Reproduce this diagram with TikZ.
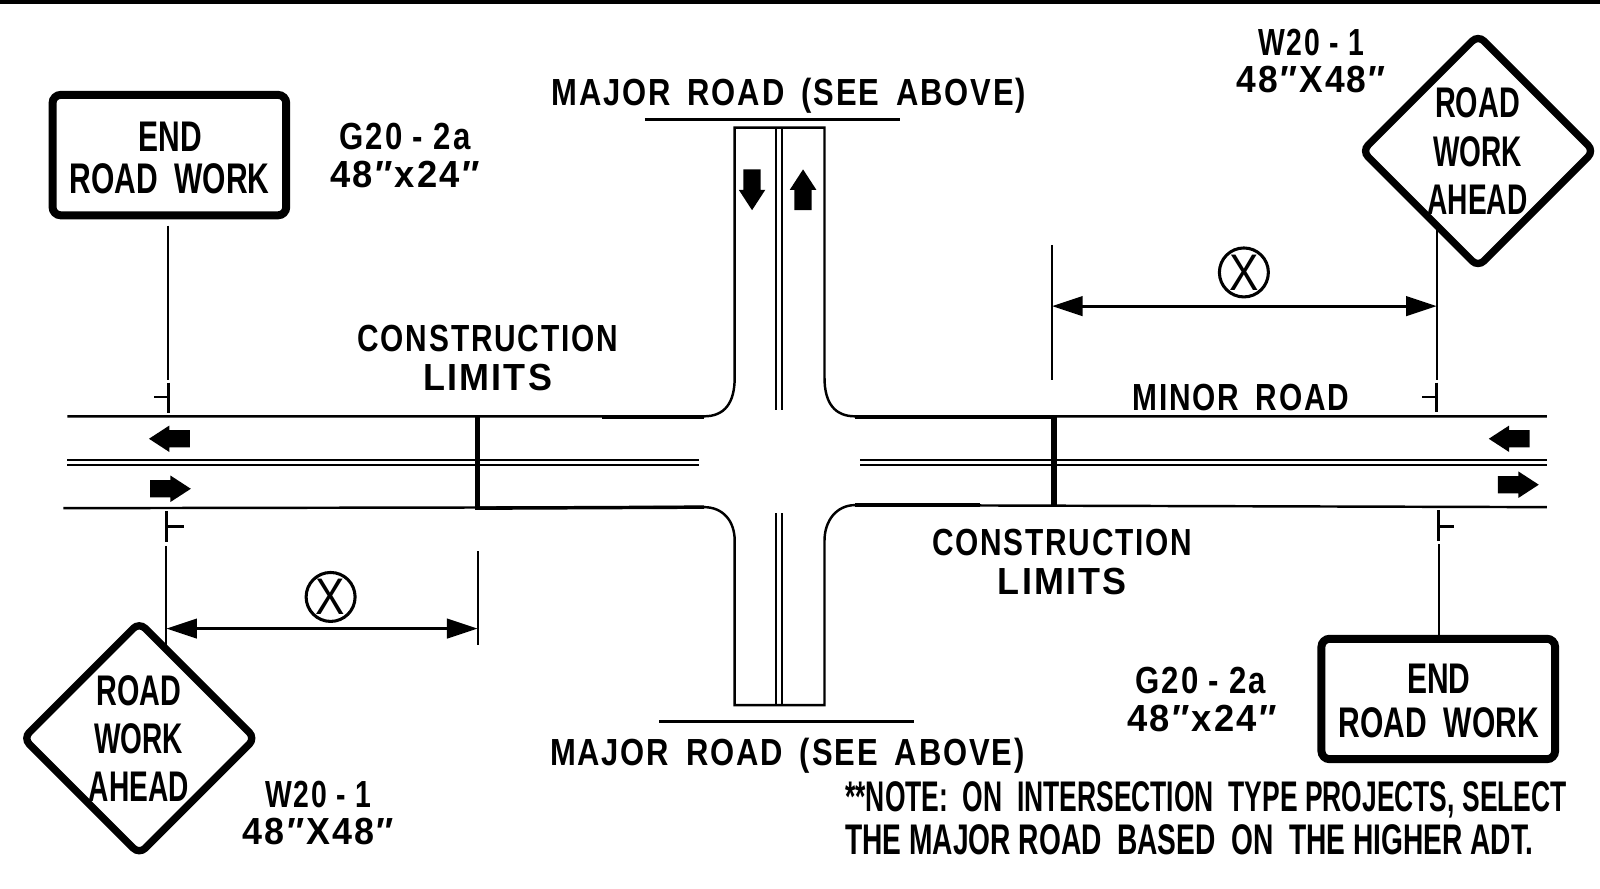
\documentclass[tikz,border=0pt]{standalone}
\usepackage{fontspec}
\usepackage{graphicx}
\usetikzlibrary{shapes.geometric,arrows.meta}
\setmainfont{Liberation Sans}
\newfontfamily\lblf[LetterSpace=6]{Liberation Sans Bold}
\newfontfamily\sgnf{Liberation Sans Bold}
\newcommand\fitw[2]{\setbox0=\hbox{#2}\pgfmathsetmacro\rr{#1*0.5/\the\wd0}\scalebox{\rr}[1]{#2}}
\newcommand\blkarrow[3]{\fill[shift={(#1,#2)},rotate=#3] (-20,-8.5) -- (0,-8.5) -- (0,-13) -- (20,0) -- (0,13) -- (0,8.5) -- (-20,8.5) -- cycle;}
\newcommand\wsp{\hspace{0.55em}}
\begin{document}
\begin{tikzpicture}[x=0.5pt,y=-0.5pt,
  thinline/.style={line width=1pt,line cap=butt},
  tickline/.style={line width=1.4pt},
  centre/.style={line width=1.15pt},
  roadline/.style={line width=1.2pt},
  heavyroad/.style={line width=1.7pt},
  limitbar/.style={line width=2.8pt},
  majorbar/.style={line width=1.8pt},
  lbl/.style={inner sep=0pt,anchor=base,font=\fontsize{18.5}{18.5}\lblf},
  sgn/.style={inner sep=0pt,anchor=base,font=\fontsize{21}{21}\sgnf},
  dtext/.style={inner sep=0pt,align=center,font=\fontsize{21}{23.4}\sgnf},
  panel/.style={draw,line width=3.9pt,rounded corners=4pt,minimum width=114.5pt,minimum height=59pt,inner sep=0pt},
  warn/.style={diamond,draw,line width=3.6pt,rounded corners=4pt,aspect=1,minimum width=115pt,minimum height=115pt,inner sep=0pt},
  xcirc/.style={circle,draw,line width=1.5pt,minimum size=24pt,inner sep=0pt,font=\fontsize{24}{24}\selectfont},
  dimen/.style={line width=1.5pt,{Triangle[length=15pt,width=9.5pt]}-{Triangle[length=15pt,width=9.5pt]}}]
\useasboundingbox (0,0) rectangle (1568,871);
\fill (0,0) rectangle (1568,4);

% roads
\draw[roadline] (66,408) -- (690,408) .. controls (710,408) and (720,395) .. (720,370) -- (720,125) -- (808,125) -- (808,370) .. controls (808,395) and (818,408) .. (838,408) -- (1516,408);
\draw[roadline] (62,498) -- (690,497) .. controls (708,497) and (720,510) .. (720,530) -- (720,691) -- (808,691) -- (808,530) .. controls (808,510) and (820,495) .. (838,495) -- (1516,497);
\draw[heavyroad] (590,409) -- (690,409);
\draw[heavyroad] (838,409) -- (1030,409);
\draw[heavyroad] (470,498) -- (690,497);
\draw[heavyroad] (838,495) -- (960,495);
\foreach \yy in {451,456}{
  \draw[centre] (66,\yy) -- (685,\yy);
  \draw[centre] (843,\yy) -- (1516,\yy);
}
\foreach \xx in {760,766}{
  \draw[thinline] (\xx,125) -- (\xx,402);
  \draw[thinline] (\xx,503) -- (\xx,691);
}
\draw[majorbar] (632,117) -- (882,117);
\draw[majorbar] (646,707) -- (896,707);
\draw[limitbar] (468,408) -- (468,500);
\draw[limitbar] (1033,408) -- (1033,496);

% block arrows
\blkarrow{737}{186}{-90}
\blkarrow{787}{186}{90}
\blkarrow{166}{430}{180}
\blkarrow{167}{479}{0}
\blkarrow{1479}{430}{180}
\blkarrow{1488}{475}{0}

% signs
\node[panel] (endA) at (166,152) {};
\node[sgn] (endAa) at (167,148) {\fitw{62}{END}};
\node[sgn] (endAb) at (166,190) {\fitw{196}{ROAD\wsp WORK}};
\node[panel] (endB) at (1409.5,685) {};
\node[sgn] (endBa) at (1410,680) {\fitw{62}{END}};
\node[sgn] (endBb) at (1410,723) {\fitw{196}{ROAD\wsp WORK}};
\node[warn] (warnA) at (1448.5,148) {};
\node[sgn] (warnAa) at (1448,115) {\fitw{83}{ROAD}};
\node[sgn] (warnAb) at (1448,163) {\fitw{87}{WORK}};
\node[sgn] (warnAc) at (1448,210) {\fitw{98}{AHEAD}};
\node[warn] (warnB) at (136.5,723.5) {};
\node[sgn] (warnBa) at (136,691) {\fitw{83}{ROAD}};
\node[sgn] (warnBb) at (136,738) {\fitw{87}{WORK}};
\node[sgn] (warnBc) at (136,785) {\fitw{98}{AHEAD}};

% posts and ticks
\coordinate (pA1) at (165,221); \coordinate (pA2) at (165,372);
\coordinate (tA1) at (165,375); \coordinate (tA2) at (165,405); \coordinate (tA3) at (151,389); \coordinate (tA4) at (165,389);
\draw[thinline] (pA1) -- (pA2);
\draw[tickline] (tA1) -- (tA2); \draw[tickline] (tA3) -- (tA4);
\coordinate (pB1) at (1408,225); \coordinate (pB2) at (1408,372);
\coordinate (tB1) at (1408,375); \coordinate (tB2) at (1408,404); \coordinate (tB3) at (1394,389); \coordinate (tB4) at (1408,389);
\draw[thinline] (pB1) -- (pB2);
\draw[tickline] (tB1) -- (tB2); \draw[tickline] (tB3) -- (tB4);
\coordinate (tC1) at (163,501); \coordinate (tC2) at (163,531); \coordinate (tC3) at (163,516); \coordinate (tC4) at (180,516);
\coordinate (pC1) at (163,535); \coordinate (pC2) at (163,632);
\draw[tickline] (tC1) -- (tC2); \draw[tickline] (tC3) -- (tC4);
\draw[thinline] (pC1) -- (pC2);
\coordinate (tD1) at (1410,500); \coordinate (tD2) at (1410,530); \coordinate (tD3) at (1410,516); \coordinate (tD4) at (1425,516);
\coordinate (pD1) at (1410,533); \coordinate (pD2) at (1410,623);
\draw[tickline] (tD1) -- (tD2); \draw[tickline] (tD3) -- (tD4);
\draw[thinline] (pD1) -- (pD2);

% dimensions
\coordinate (dA1) at (1031,240); \coordinate (dA2) at (1031,372);
\draw[thinline] (dA1) -- (dA2);
\coordinate (dA3) at (1031,300); \coordinate (dA4) at (1408,300);
\draw[dimen] (dA3) -- (dA4);
\node[xcirc] (xA) at (1219,267) {\scalebox{0.9}[1.05]{X}};
\coordinate (dB1) at (468,540); \coordinate (dB2) at (468,632);
\draw[thinline] (dB1) -- (dB2);
\coordinate (dB3) at (163,616); \coordinate (dB4) at (468,616);
\draw[dimen] (dB3) -- (dB4);
\node[xcirc] (xB) at (324,585) {\scalebox{0.9}[1.05]{X}};

% labels
\node[lbl] (mjA) at (773,103) {\fitw{465}{MAJOR\wsp ROAD\wsp (SEE\wsp ABOVE)}};
\node[lbl] (mjB) at (771.5,750) {\fitw{465}{MAJOR\wsp ROAD\wsp (SEE\wsp ABOVE)}};
\node[lbl] (clA) at (478,344) {\fitw{255}{CONSTRUCTION}};
\node[lbl] (clAb) at (478,383) {\fitw{126}{LIMITS}};
\node[lbl] (clB) at (1041,544) {\fitw{255}{CONSTRUCTION}};
\node[lbl] (clBb) at (1041,583) {\fitw{126}{LIMITS}};
\node[lbl] (minor) at (1216,402) {\fitw{212}{MINOR\wsp ROAD}};
\node[lbl] (gA) at (397,147) {\fitw{128}{G20 - 2a}};
\node[lbl] (gAb) at (397,184) {\fitw{146}{48″x24″}};
\node[lbl] (gB) at (1177,680) {\fitw{128}{G20 - 2a}};
\node[lbl] (gBb) at (1178,717) {\fitw{146}{48″x24″}};
\node[lbl] (wA) at (1285,54) {\fitw{104}{W20 - 1}};
\node[lbl] (wAb) at (1285,91) {\fitw{146}{48″X48″}};
\node[lbl] (wB) at (312,791) {\fitw{104}{W20 - 1}};
\node[lbl] (wBb) at (312,828) {\fitw{148}{48″X48″}};
\node[sgn,anchor=base west] (noteA) at (828,795) {\fitw{707}{**NOTE:\wsp ON\wsp INTERSECTION\wsp TYPE PROJECTS, SELECT}};
\node[sgn,anchor=base west] (noteB) at (828,837) {\fitw{674}{THE MAJOR ROAD\wsp BASED\wsp ON\wsp THE HIGHER ADT.}};
\end{tikzpicture}
\end{document}
